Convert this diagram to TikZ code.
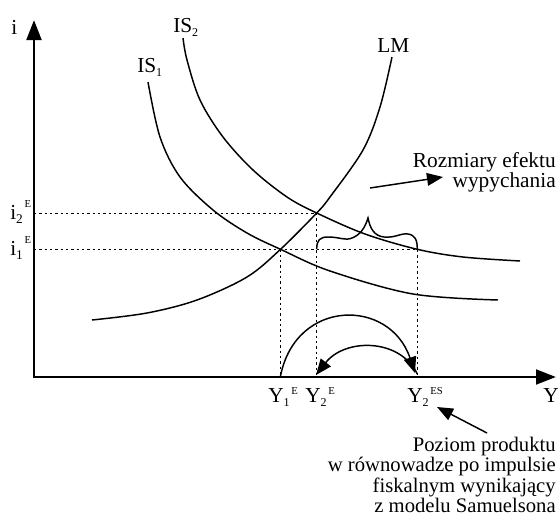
\documentclass[tikz,border=0pt]{standalone}
\usepackage{fontspec}
\setmainfont{Liberation Serif}
\usetikzlibrary{arrows.meta}
\begin{document}
\begin{tikzpicture}[x=0.75pt,y=-0.75pt,
  axis/.style={line width=2.2pt,line join=miter},
  curve/.style={line width=1.1pt},
  guide/.style={line width=0.75pt,dash pattern=on 1.8pt off 2.2pt},
  arr/.style={line width=1.1pt,-{Triangle[length=12pt,width=9.5pt]}},
  lbl/.style={font=\fontsize{16}{18}\selectfont,inner sep=0pt},
  note/.style={font=\fontsize{15.5}{17}\selectfont,inner sep=0pt},
]
\useasboundingbox (0,0) rectangle (558,518);
% key points
\coordinate (O) at (34,377);
\coordinate (yTop) at (34,20);
\coordinate (xEnd) at (556,377);
\coordinate (E1) at (280.5,249.3);
\coordinate (E2) at (316.7,213);
\coordinate (E3) at (417.3,249.3);
\coordinate (Y1) at (280.5,376);
\coordinate (Y2) at (316.7,376);
\coordinate (Y3) at (417.3,376);
\coordinate (i1) at (34,249.3);
\coordinate (i2) at (34,213);
% guides
\draw[guide] (i2) -- (E2) -- (Y2);
\draw[guide] (i1) -- (E3) -- (Y3);
\draw[guide] (E1) -- (Y1);
% curves
\draw[curve] plot[smooth,tension=0.55] coordinates {(92,320) (147,313) (197,300) (247,277) (280.5,249.3) (316.7,213) (330,197) (363,150) (380,107) (392,57)};
\draw[curve] plot[smooth,tension=0.55] coordinates {(183,38) (187,60) (200,100) (223,137) (253,170) (287,197) (316.7,213) (365,234) (417.3,249.3) (463,257) (520,261)};
\draw[curve] plot[smooth,tension=0.55] coordinates {(148,82) (160,137) (180,177) (213,210) (247,233) (280.5,249.3) (330,271) (413,294) (498,300)};
% brace
\draw[curve] (316.7,249) .. controls (316.7,240) and (320,237) .. (328,237)
  .. controls (340,237) and (345,241) .. (352,238)
  .. controls (360,235) and (365,228) .. (368,218)
  .. controls (370,228) and (374,236) .. (384,237)
  .. controls (396,238) and (400,233) .. (408,234)
  .. controls (415,235) and (417.3,240) .. (417.3,249);
% axes
\draw[axis,{Triangle[length=15pt,width=11pt]}-{Triangle[length=15pt,width=11pt]}] (yTop) -- (O) -- (xEnd);
% bottom arcs
\coordinate (a1e) at (415,373);
\coordinate (a2s) at (417.3,374);
\coordinate (a2e) at (316,375);
\draw[arr] (Y1) .. controls (296,298) and (390,298) .. (a1e);
\draw[arr] (a2s) .. controls (400,338) and (345,338) .. (a2e);
% labels
\node[lbl,anchor=base west] (li) at (11,34) {i};
\node[lbl,anchor=base west] (lIS2) at (173,32) {IS\raisebox{-3pt}{\fontsize{9}{9}\selectfont 2}};
\node[lbl,anchor=base west] (lIS1) at (137,72) {IS\raisebox{-3pt}{\fontsize{9}{9}\selectfont 1}};
\node[lbl,anchor=base west] (lLM) at (377,52) {LM};
\node[lbl,anchor=base west] (li2) at (10,219) {i\raisebox{-3.5pt}{\fontsize{10}{10}\selectfont 2}\raisebox{8.5pt}{\fontsize{8}{8}\selectfont\,E}};
\node[lbl,anchor=base west] (li1) at (10,255) {i\raisebox{-3.5pt}{\fontsize{10}{10}\selectfont 1}\raisebox{8.5pt}{\fontsize{8}{8}\selectfont\,E}};
\node[lbl,anchor=base west] (lY1) at (268,402) {Y\raisebox{-3.5pt}{\fontsize{9}{9}\selectfont 1}\raisebox{6pt}{\fontsize{8}{8}\selectfont\,E}};
\node[lbl,anchor=base west] (lY2) at (305,402) {Y\raisebox{-3.5pt}{\fontsize{9}{9}\selectfont 2}\raisebox{6pt}{\fontsize{8}{8}\selectfont\,E}};
\node[lbl,anchor=base west] (lY3) at (407,402) {Y\raisebox{-3.5pt}{\fontsize{9}{9}\selectfont 2}\raisebox{6pt}{\fontsize{8}{8}\selectfont\,ES}};
\node[lbl,anchor=base west] (lY) at (543,402) {Y};
\node[lbl,anchor=base east] (r1) at (556,167) {Rozmiary efektu};
\node[lbl,anchor=base east] (r2) at (556,187) {wypychania};
\node[note,anchor=base east] (p1) at (556,451) {Poziom produktu};
\node[note,anchor=base east] (p2) at (556,471.5) {w równowadze po impulsie};
\node[note,anchor=base east] (p3) at (556,492) {fiskalnym wynikający};
\node[note,anchor=base east] (p4) at (556,512.5) {z modelu Samuelsona};
% pointer arrows
\coordinate (rs) at (370,188);
\coordinate (re) at (443,177);
\draw[arr] (rs) -- (re);
\coordinate (ps) at (487,433);
\coordinate (pe) at (437,407);
\draw[arr] (ps) -- (pe);
\end{tikzpicture}
\end{document}
